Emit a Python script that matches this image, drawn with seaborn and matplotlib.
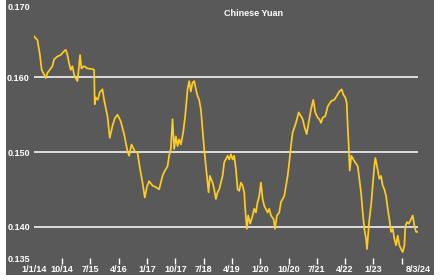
import matplotlib
matplotlib.use("Agg")
import matplotlib.pyplot as plt
import seaborn as sns
import pandas as pd

# decimal years (2014.0 = 1 Jan 2014) and CNY/USD-style rate
years = [
    2014.000, 2014.090, 2014.151, 2014.204, 2014.265, 2014.311, 2014.356, 2014.417,
    2014.488, 2014.531, 2014.621, 2014.709, 2014.796, 2014.841, 2014.886, 2014.929,
    2014.974, 2015.019, 2015.062, 2015.107, 2015.152, 2015.194, 2015.221, 2015.258,
    2015.327, 2015.417, 2015.550, 2015.593, 2015.611, 2015.638, 2015.691, 2015.744,
    2015.815, 2015.858, 2015.948, 2016.009, 2016.081, 2016.142, 2016.214, 2016.301,
    2016.389, 2016.479, 2016.521, 2016.585, 2016.673, 2016.744, 2016.813, 2016.877,
    2016.938, 2016.991, 2017.052, 2017.143, 2017.230, 2017.318, 2017.408, 2017.450,
    2017.541, 2017.583, 2017.628, 2017.673, 2017.716, 2017.761, 2017.806, 2017.849,
    2017.894, 2017.955, 2018.008, 2018.072, 2018.114, 2018.159, 2018.204, 2018.247,
    2018.292, 2018.337, 2018.379, 2018.425, 2018.470, 2018.512, 2018.557, 2018.602,
    2018.629, 2018.663, 2018.735, 2018.778, 2018.823, 2018.868, 2018.910, 2019.001,
    2019.043, 2019.133, 2019.176, 2019.221, 2019.266, 2019.308, 2019.354, 2019.399,
    2019.441, 2019.486, 2019.531, 2019.574, 2019.600, 2019.645, 2019.680, 2019.733,
    2019.797, 2019.839, 2019.884, 2019.929, 2019.972, 2020.017, 2020.062, 2020.105,
    2020.195, 2020.237, 2020.282, 2020.354, 2020.389, 2020.442, 2020.503, 2020.548,
    2020.636, 2020.726, 2020.768, 2020.813, 2020.858, 2020.946, 2021.018, 2021.079,
    2021.124, 2021.166, 2021.230, 2021.283, 2021.344, 2021.405, 2021.458, 2021.522,
    2021.565, 2021.610, 2021.655, 2021.724, 2021.787, 2021.875, 2021.963, 2022.026,
    2022.095, 2022.159, 2022.201, 2022.254, 2022.292, 2022.318, 2022.345, 2022.371,
    2022.414, 2022.493, 2022.584, 2022.626, 2022.671, 2022.716, 2022.759, 2022.804,
    2022.830, 2022.865, 2022.892, 2022.937, 2022.982, 2023.024, 2023.051, 2023.096,
    2023.157, 2023.202, 2023.247, 2023.290, 2023.335, 2023.380, 2023.422, 2023.468,
    2023.513, 2023.555, 2023.600, 2023.645, 2023.688, 2023.733, 2023.778, 2023.821,
    2023.847, 2023.892, 2023.937, 2023.998, 2024.043, 2024.086, 2024.131, 2024.176,
]
rates = [
    0.1655, 0.1650, 0.1632, 0.1610, 0.1604, 0.1599, 0.1606, 0.1610,
    0.1615, 0.1624, 0.1628, 0.1630, 0.1635, 0.1637, 0.1630, 0.1619,
    0.1610, 0.1615, 0.1604, 0.1599, 0.1595, 0.1615, 0.1630, 0.1612,
    0.1615, 0.1612, 0.1611, 0.1610, 0.1564, 0.1573, 0.1570, 0.1580,
    0.1584, 0.1570, 0.1548, 0.1519, 0.1535, 0.1545, 0.1550, 0.1541,
    0.1524, 0.1501, 0.1495, 0.1510, 0.1501, 0.1499, 0.1477, 0.1459,
    0.1439, 0.1453, 0.1461, 0.1455, 0.1453, 0.1450, 0.1468, 0.1473,
    0.1481, 0.1495, 0.1504, 0.1544, 0.1504, 0.1521, 0.1508, 0.1517,
    0.1510, 0.1526, 0.1548, 0.1584, 0.1595, 0.1581, 0.1593, 0.1595,
    0.1584, 0.1575, 0.1570, 0.1557, 0.1530, 0.1504, 0.1481, 0.1459,
    0.1446, 0.1468, 0.1459, 0.1450, 0.1437, 0.1446, 0.1450, 0.1468,
    0.1486, 0.1495, 0.1490, 0.1497, 0.1490, 0.1495, 0.1477, 0.1450,
    0.1448, 0.1459, 0.1455, 0.1446, 0.1424, 0.1397, 0.1415, 0.1404,
    0.1415, 0.1424, 0.1419, 0.1433, 0.1441, 0.1459, 0.1437, 0.1428,
    0.1419, 0.1424, 0.1415, 0.1410, 0.1397, 0.1415, 0.1419, 0.1433,
    0.1441, 0.1468, 0.1486, 0.1508, 0.1526, 0.1539, 0.1553, 0.1548,
    0.1544, 0.1535, 0.1524, 0.1539, 0.1557, 0.1570, 0.1553, 0.1546,
    0.1544, 0.1539, 0.1546, 0.1548, 0.1561, 0.1568, 0.1570, 0.1575,
    0.1581, 0.1584, 0.1577, 0.1573, 0.1566, 0.1535, 0.1508, 0.1475,
    0.1495, 0.1488, 0.1481, 0.1464, 0.1446, 0.1419, 0.1397, 0.1384,
    0.1370, 0.1393, 0.1410, 0.1428, 0.1455, 0.1481, 0.1492, 0.1481,
    0.1464, 0.1468, 0.1455, 0.1450, 0.1441, 0.1424, 0.1410, 0.1393,
    0.1397, 0.1384, 0.1375, 0.1388, 0.1375, 0.1370, 0.1366, 0.1375,
    0.1401, 0.1406, 0.1404, 0.1410, 0.1415, 0.1401, 0.1393, 0.1393,
]

tick_dates = ["2014-01-01", "2014-10-01", "2015-07-01", "2016-04-01", "2017-01-01",
              "2017-10-01", "2018-07-01", "2019-04-01", "2020-01-01", "2020-10-01",
              "2021-07-01", "2022-04-01", "2023-01-01", "2023-10-01", "2024-03-08"]
tick_labels = ["1/1/14", "10/14", "7/15", "4/16", "1/17", "10/17", "7/18", "4/19",
               "1/20", "10/20", "7/21", "4/22", "1/23", "", "8/3/24"]
y_ticks = [0.135, 0.140, 0.150, 0.160, 0.170]
y_labels = ["0.135", "0.140", "0.150", "0.160", "0.170"]
grid_levels = [0.140, 0.150, 0.160]

BG = "#595959"
LINE = "#FFCC1F"

start = pd.Timestamp("2014-01-01")
df = pd.DataFrame({
    "date": [start + pd.Timedelta(days=(y - 2014) * 365.25) for y in years],
    "rate": rates,
})

plt.rcParams["font.family"] = ["Liberation Sans", "DejaVu Sans"]

W, H = 445, 280
fig = plt.figure(figsize=(W / 100, H / 100), dpi=100)
fig.patch.set_facecolor("white")

# grey chart panel behind everything
bg = fig.add_axes([6 / W, 5 / H, 428 / W, 275 / H], zorder=0)
bg.set_facecolor(BG)
bg.set_xticks([])
bg.set_yticks([])
for s in bg.spines.values():
    s.set_visible(False)

ax = fig.add_axes([34 / W, 1 - 264 / H, 384 / W, 261.3 / H], zorder=1)
ax.set_facecolor("none")

for lvl in grid_levels:
    ax.axhline(lvl, color="white", lw=1.1, zorder=1)

sns.lineplot(data=df, x="date", y="rate", ax=ax, color=LINE, lw=1.25, zorder=3)

ax.set_xlim(start, pd.Timestamp("2024-03-08"))
ax.set_ylim(0.135, 0.170)
for s in ax.spines.values():
    s.set_visible(False)

ax.set_xticks(pd.to_datetime(tick_dates))
ax.set_xticklabels(tick_labels)
ax.tick_params(axis="x", direction="in", length=4, width=1, color="white",
               labelcolor="white", labelsize=6.5, pad=1)
ticks = ax.xaxis.get_major_ticks()
ticks[0].tick1line.set_visible(False)
ticks[-1].tick1line.set_visible(False)
for lab in ax.get_xticklabels():
    lab.set_fontweight("bold")

ax.set_yticks(y_ticks)
ax.set_yticklabels(y_labels)
ax.tick_params(axis="y", length=0, labelcolor="white", labelsize=6.5, pad=3)
for lab in ax.get_yticklabels():
    lab.set_fontweight("bold")
ylabs = ax.get_yticklabels()
ylabs[0].set_va("bottom")
ylabs[-1].set_va("top")

ax.set_xlabel("")
ax.set_ylabel("")

fig.text(254 / W, 1 - 13 / H, "Chinese Yuan", ha="center", va="center",
         color="white", fontsize=6.5, fontweight="bold", zorder=5)

fig.savefig("out.png", dpi=100)
